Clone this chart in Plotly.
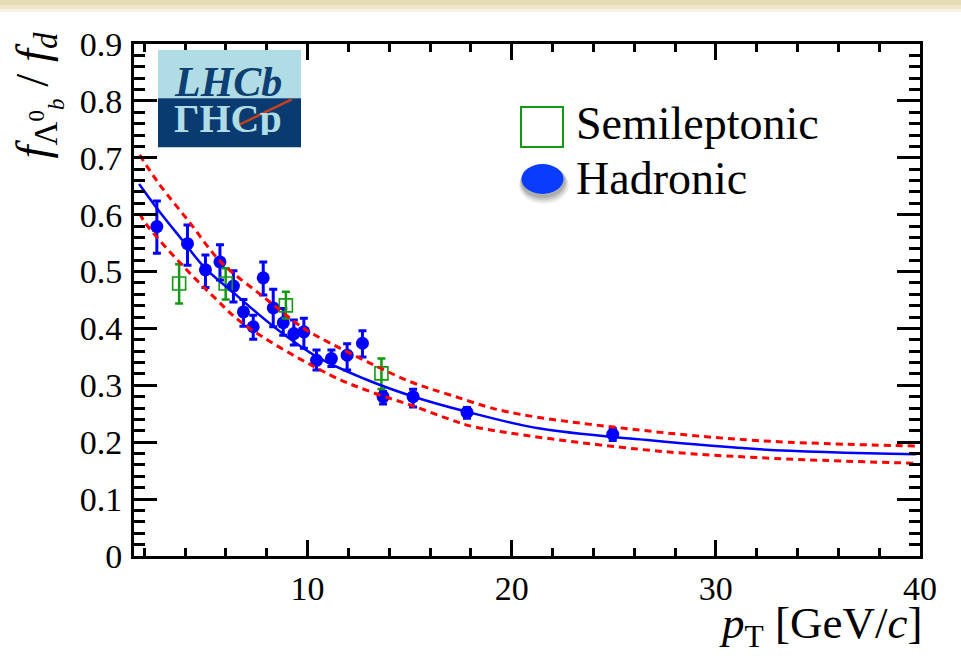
import plotly.graph_objects as go

# ---------------- data ----------------
had_pt = [2.62, 4.12, 5.00, 5.71, 6.37, 6.86, 7.34, 7.83, 8.32, 8.81, 9.33, 9.82,
          10.44, 11.17, 11.94, 12.69, 13.70, 15.17, 17.81, 24.95]
had_val = [0.579, 0.549, 0.503, 0.517, 0.4745, 0.429, 0.403, 0.489, 0.436, 0.410, 0.391, 0.394,
           0.344, 0.347, 0.353, 0.374, 0.280, 0.280, 0.2525, 0.214]
had_up = [0.045, 0.033, 0.026, 0.030, 0.027, 0.022, 0.020, 0.028, 0.033, 0.025, 0.024, 0.024,
          0.018, 0.015, 0.020, 0.022, 0.009, 0.013, 0.0085, 0.010]
had_dn = [0.047, 0.038, 0.031, 0.032, 0.028, 0.025, 0.022, 0.030, 0.033, 0.022, 0.020, 0.029,
          0.017, 0.014, 0.026, 0.024, 0.013, 0.018, 0.0105, 0.011]

sl_pt = [3.71, 5.99, 8.94, 13.62]
sl_val = [0.479, 0.479, 0.4406, 0.321]
sl_up = [0.034, 0.027, 0.024, 0.026]
sl_dn = [0.035, 0.028, 0.023, 0.0275]

fit_pt = [1.75, 2.63, 3.85, 4.96, 6.4, 8.35, 10.47, 12.75, 15.2, 17.81, 21.39, 26.28, 32.15, 39.8]
fit_val = [0.654, 0.611, 0.556, 0.507, 0.462, 0.403, 0.350, 0.312, 0.280, 0.2536, 0.224, 0.205, 0.1875, 0.1787]

up_pt = [1.78, 2.71, 4.2, 5.75, 7.86, 9.82, 11.12, 13.08, 15.04, 16.99, 19.77, 26.28, 32.15, 39.8]
up_val = [0.705, 0.655, 0.5875, 0.517, 0.455, 0.400, 0.374, 0.3387, 0.3063, 0.283, 0.2536, 0.2214, 0.2027, 0.1933]

lo_pt = [1.78, 2.06, 3.79, 5.42, 6.89, 11.12, 13.08, 15.04, 16.99, 18.13, 26.28, 32.15, 39.8]
lo_val = [0.602, 0.585, 0.514, 0.455, 0.407, 0.318, 0.2888, 0.2654, 0.240, 0.2273, 0.1875, 0.1728, 0.163]

x_ticks = [10, 20, 30, 40]
y_ticks = [0, 0.1, 0.2, 0.3, 0.4, 0.5, 0.6, 0.7, 0.8, 0.9]
y_ticklabels = ["0", "0.1", "0.2", "0.3", "0.4", "0.5", "0.6", "0.7", "0.8", "0.9"]

# ---------------- layout helpers ----------------
W, H = 961, 661
L, R, T, B = 134, 920, 44, 556
def px(x):
    return (x - L) / (R - L)
def py(y):
    return (B - y) / (B - T)

FONT = "Liberation Serif"
BLUE = "#0000ff"
GREEN = "#119911"
RED = "#ff0000"

fig = go.Figure()

fig.add_trace(go.Scatter(
    x=had_pt, y=had_val, mode="markers",
    marker=dict(symbol="circle", size=13, color=BLUE),
    error_y=dict(type="data", array=had_up, arrayminus=had_dn, color=BLUE, thickness=3, width=4),
    showlegend=False))

fig.add_trace(go.Scatter(
    x=sl_pt, y=sl_val, mode="markers",
    marker=dict(symbol="square-open", size=13, color=GREEN, line=dict(width=1.6, color=GREEN)),
    error_y=dict(type="data", array=sl_up, arrayminus=sl_dn, color=GREEN, thickness=2.5, width=4),
    showlegend=False))

fig.add_trace(go.Scatter(x=fit_pt, y=fit_val, mode="lines", line=dict(color=BLUE, width=2.5, shape="spline"),
                         showlegend=False, hoverinfo="skip"))
fig.add_trace(go.Scatter(x=up_pt, y=up_val, mode="lines",
                         line=dict(color=RED, width=3, dash="7px,5px", shape="spline"),
                         showlegend=False, hoverinfo="skip"))
fig.add_trace(go.Scatter(x=lo_pt, y=lo_val, mode="lines",
                         line=dict(color=RED, width=3, dash="7px,5px", shape="spline"),
                         showlegend=False, hoverinfo="skip"))

axis_common = dict(showline=True, linewidth=3, linecolor="black", mirror="ticks", ticks="inside",
                   tickwidth=2.5, tickcolor="black", showgrid=False, zeroline=False,
                   tickfont=dict(family=FONT, size=34, color="black"))

fig.update_xaxes(range=[1.5, 40], tickvals=x_ticks, ticklen=16,
                 minor=dict(ticks="inside", ticklen=8, dtick=2, tick0=0, tickwidth=2.5, tickcolor="black", showgrid=False),
                 **axis_common)
fig.update_yaxes(range=[0, 0.9], tickvals=y_ticks, ticktext=y_ticklabels, ticklen=23, ticklabelstandoff=2,
                 minor=dict(ticks="inside", ticklen=11, dtick=0.02, tick0=0, tickwidth=2.5, tickcolor="black", showgrid=False),
                 **axis_common)

shapes = []
# beige band on top
for y0, y1, c in [(0, 5, "#e7dcb6"), (5, 9, "#eee6ca"), (9, 12, "#f7f3e5")]:
    shapes.append(dict(type="rect", xref="paper", yref="paper", x0=px(0), x1=px(W), y0=py(y1), y1=py(y0),
                       fillcolor=c, line=dict(width=0), layer="above"))
# LHCb logo
shapes.append(dict(type="rect", xref="paper", yref="paper", x0=px(158), x1=px(301), y0=py(98.3), y1=py(50),
                   fillcolor="#b0dde5", line=dict(width=0), layer="above"))
shapes.append(dict(type="rect", xref="paper", yref="paper", x0=px(158), x1=px(301), y0=py(147.3), y1=py(98.3),
                   fillcolor="#0a3b70", line=dict(width=0), layer="above"))
shapes.append(dict(type="line", xref="paper", yref="paper", x0=px(236.7), x1=px(291.7), y0=py(126), y1=py(99.3),
                   line=dict(color="#c8411c", width=2.5), layer="above"))
# legend symbols
shapes.append(dict(type="rect", xref="paper", yref="paper", x0=px(521), x1=px(563), y0=py(147), y1=py(107),
                   fillcolor="rgba(0,0,0,0)", line=dict(color=GREEN, width=2), layer="above"))
for off, op in [(10, 0.06), (8, 0.08), (6, 0.10), (4, 0.12)]:
    shapes.append(dict(type="circle", xref="paper", yref="paper",
                       x0=px(522 - off * 0.3), x1=px(563 + off * 0.6), y0=py(194 + off), y1=py(164 + off * 0.2),
                       fillcolor=f"rgba(0,0,0,{op})", line=dict(width=0), layer="above"))
shapes.append(dict(type="circle", xref="paper", yref="paper", x0=px(521.5), x1=px(563.5), y0=py(194), y1=py(164),
                   fillcolor="#0a3cff", line=dict(width=0), layer="above"))

annotations = [
    dict(text="<b><i>LHCb</i></b>", xref="paper", yref="paper", x=px(228), y=py(82), xanchor="center", yanchor="middle",
         height=34, showarrow=False, font=dict(family=FONT, size=42, color="#0d3f73")),
    dict(text="<b>ΓHCp</b>", xref="paper", yref="paper", x=px(228), y=py(118), xanchor="center", yanchor="middle",
         height=34, showarrow=False, font=dict(family=FONT, size=40, color="#b0dde5")),
    dict(text="Semileptonic", xref="paper", yref="paper", x=px(574), y=py(123), xanchor="left", yanchor="middle",
         showarrow=False, font=dict(family=FONT, size=46, color="black")),
    dict(text="Hadronic", xref="paper", yref="paper", x=px(574), y=py(178), xanchor="left", yanchor="middle",
         showarrow=False, font=dict(family=FONT, size=46, color="black")),
    dict(text="<i>p</i><sub>T</sub> [GeV/<i>c</i>]", xref="paper", yref="paper", x=px(924), y=py(626),
         xanchor="right", yanchor="middle", height=46, showarrow=False, font=dict(family=FONT, size=45, color="black")),
    dict(text="<i>f</i><sub>Λ<sup>0</sup><sub><i>b</i></sub></sub> / <i>f</i><sub><i>d</i></sub>",
         xref="paper", yref="paper", x=px(37), y=py(30), xanchor="center", yanchor="top", textangle=-90,
         showarrow=False, font=dict(family=FONT, size=47, color="black")),
]

fig.update_layout(width=W, height=H, margin=dict(l=L, r=W - R, t=T, b=H - B),
                  paper_bgcolor="white", plot_bgcolor="white", showlegend=False,
                  shapes=shapes, annotations=annotations)

fig.write_html("out.html")
